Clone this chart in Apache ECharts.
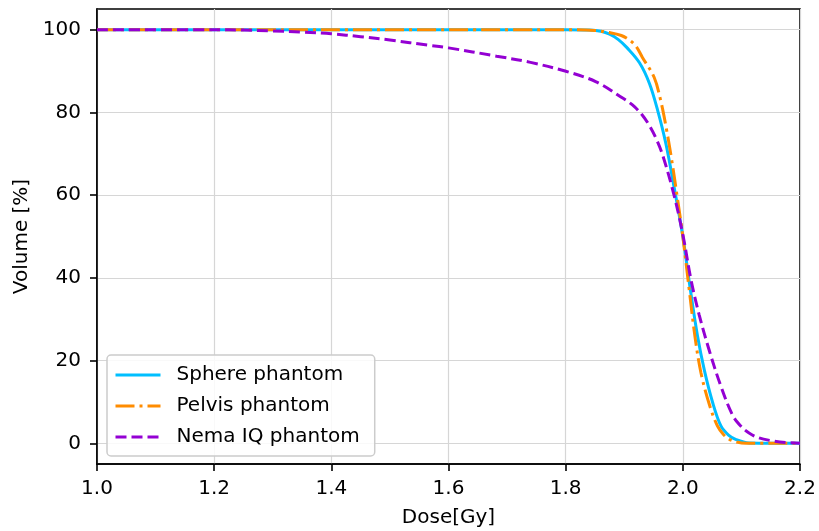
<!DOCTYPE html>
<html>
<head>
<meta charset="utf-8">
<script src="https://cdn.jsdelivr.net/npm/echarts@6/dist/echarts.min.js"></script>
<style>html,body{margin:0;padding:0;background:#fff;}#chart{width:819px;height:531px;}</style>
</head>
<body>
<div id="chart"></div>
<script>
var seriesNames = ['Sphere phantom', 'Pelvis phantom', 'Nema IQ phantom'];
var xTicks = [1.0, 1.2, 1.4, 1.6, 1.8, 2.0, 2.2];
var yTicks = [0, 20, 40, 60, 80, 100];

var sphereDose = [1.0, 1.8, 1.84, 1.86, 1.875, 1.89, 1.905, 1.926, 1.943, 1.957, 1.971, 1.985, 2.0, 2.013, 2.025, 2.037, 2.051, 2.065, 2.078, 2.091, 2.113, 2.2];
var sphereVol  = [100, 100, 99.9, 99.6, 98.9, 97.6, 95.6, 92.0, 87.0, 80.5, 72.5, 62, 50, 37, 26, 17.5, 9.8, 4.2, 2.0, 0.9, 0.1, 0];

var pelvisDose = [1.0, 1.82, 1.85, 1.875, 1.895, 1.909, 1.92, 1.931, 1.951, 1.962, 1.972, 1.981, 1.99, 2.0, 2.011, 2.021, 2.031, 2.045, 2.059, 2.069, 2.079, 2.092, 2.108, 2.2];
var pelvisVol  = [100, 100, 99.8, 99.3, 98.6, 97.5, 96.0, 93.3, 88.5, 83, 76, 68.5, 60, 50, 37, 25.5, 17, 9.5, 4.2, 2.2, 1.0, 0.3, 0, 0];

var nemaDose = [1.0, 1.2, 1.25, 1.3, 1.35, 1.4, 1.45, 1.5, 1.568, 1.6, 1.682, 1.74, 1.799, 1.852, 1.898, 1.914, 1.93, 1.943, 1.955, 1.966, 1.985, 2.0, 2.014, 2.028, 2.045, 2.065, 2.085, 2.1, 2.113, 2.13, 2.153, 2.175, 2.2];
var nemaVol  = [100, 100, 99.9, 99.7, 99.4, 99.0, 98.3, 97.5, 96.2, 95.6, 93.6, 92.1, 90.0, 87.4, 83.4, 81.8, 79.5, 76.8, 73.5, 69.5, 60, 50.5, 39.5, 31, 22.5, 13.8, 6.8, 4.0, 2.5, 1.3, 0.6, 0.2, 0];

function pairs(xs, ys) { return xs.map(function (x, i) { return [x, ys[i]]; }); }

var FONT = 'DejaVu Sans';
var chart = echarts.init(document.getElementById('chart'), null, {renderer: 'canvas'});
chart.setOption({
  animation: false,
  backgroundColor: '#ffffff',
  textStyle: {fontFamily: FONT},
  grid: {left: 97, right: 19, top: 9, bottom: 67, outerBoundsMode: 'none', containLabel: false,
         show: true, borderColor: '#000', borderWidth: 1.6, backgroundColor: 'transparent'},
  legend: {
    orient: 'vertical', left: 107, top: 355,
    padding: [10, 15, 9, 7],
    itemWidth: 45, itemHeight: 14, itemGap: 11,
    backgroundColor: 'rgba(255,255,255,0.85)',
    borderColor: '#cccccc', borderWidth: 1.5, borderRadius: 4,
    itemStyle: {color: 'rgba(0,0,0,0)', borderWidth: 0, borderColor: 'rgba(0,0,0,0)'},
    lineStyle: {width: 3},
    textStyle: {fontFamily: FONT, fontSize: 20, color: '#000', padding: [0, 0, 0, 11]},
    data: seriesNames
  },
  xAxis: {
    type: 'value', min: 1.0, max: 2.2, interval: 0.2,
    name: 'Dose[Gy]', nameLocation: 'middle', nameGap: 44,
    nameTextStyle: {fontFamily: FONT, fontSize: 20, color: '#000'},
    axisLine: {show: true, onZero: false, lineStyle: {color: '#000', width: 1.6}},
    axisTick: {show: true, length: 7, lineStyle: {color: '#000', width: 1.6}},
    axisLabel: {fontFamily: FONT, fontSize: 20, color: '#000', margin: 15, formatter: function (v) { return v.toFixed(1); }},
    splitLine: {show: true, lineStyle: {color: '#d6d6d6', width: 1.2}}
  },
  yAxis: {
    type: 'value', min: -5, max: 105,
    name: 'Volume [%]', nameLocation: 'middle', nameGap: 64,
    nameTextStyle: {fontFamily: FONT, fontSize: 20, color: '#000'},
    axisLine: {show: true, onZero: false, lineStyle: {color: '#000', width: 1.6}},
    axisTick: {show: true, length: 7, customValues: yTicks, lineStyle: {color: '#000', width: 1.6}},
    axisLabel: {fontFamily: FONT, fontSize: 20, color: '#000', margin: 16, customValues: yTicks},
    splitLine: {show: true, lineStyle: {color: '#d6d6d6', width: 1.2}}
  },
  series: [
    {name: seriesNames[0], type: 'line', data: pairs(sphereDose, sphereVol), smooth: 0.35, showSymbol: false, symbol: 'none',
     lineStyle: {color: '#00bfff', width: 3, type: 'solid'}, itemStyle: {color: '#00bfff'}, z: 3},
    {name: seriesNames[1], type: 'line', data: pairs(pelvisDose, pelvisVol), smooth: 0.35, showSymbol: false, symbol: 'none',
     lineStyle: {color: '#ff8c00', width: 3, type: [19, 5, 3, 5]}, itemStyle: {color: '#ff8c00'}, z: 4},
    {name: seriesNames[2], type: 'line', data: pairs(nemaDose, nemaVol), smooth: 0.35, showSymbol: false, symbol: 'none',
     lineStyle: {color: '#9400d3', width: 3, type: [11, 5]}, itemStyle: {color: '#9400d3'}, z: 5}
  ]
});
</script>
</body>
</html>
